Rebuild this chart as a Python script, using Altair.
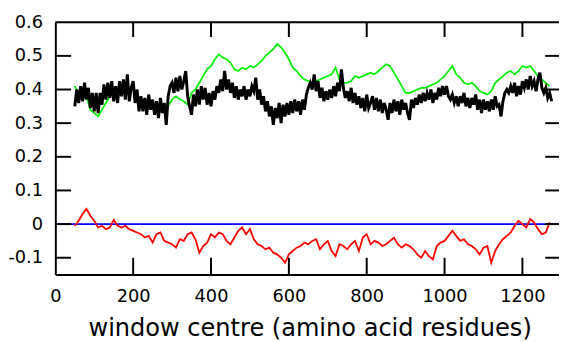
import altair as alt
import pandas as pd

# ---- data ----
green_x = list(range(50, 1271, 10))
green = [0.41, 0.39, 0.37, 0.38, 0.34, 0.33, 0.32, 0.34, 0.36, 0.38,
         0.39, 0.385, 0.395, 0.40, 0.395, 0.40, 0.38, 0.37, 0.36, 0.37,
         0.36, 0.35, 0.34, 0.33, 0.35, 0.37, 0.38, 0.37, 0.365, 0.355,
         0.39, 0.40, 0.42, 0.44, 0.46, 0.47, 0.49, 0.505, 0.495, 0.49,
         0.48, 0.46, 0.455, 0.465, 0.46, 0.47, 0.465, 0.475, 0.485, 0.50,
         0.51, 0.52, 0.535, 0.525, 0.51, 0.49, 0.465, 0.455, 0.44, 0.43,
         0.425, 0.42, 0.425, 0.43, 0.435, 0.44, 0.445, 0.465, 0.43, 0.42,
         0.42, 0.425, 0.44, 0.435, 0.44, 0.445, 0.45, 0.445, 0.455, 0.465,
         0.475, 0.47, 0.45, 0.43, 0.41, 0.39, 0.39, 0.395, 0.40, 0.405,
         0.405, 0.41, 0.415, 0.42, 0.43, 0.44, 0.455, 0.47, 0.445, 0.435,
         0.42, 0.415, 0.42, 0.41, 0.395, 0.39, 0.385, 0.395, 0.42, 0.43,
         0.44, 0.45, 0.455, 0.445, 0.455, 0.47, 0.465, 0.47, 0.455, 0.44,
         0.43, 0.42, 0.41]

black_x = list(range(50, 1276, 5))
black = [0.35, 0.40, 0.36, 0.41, 0.365, 0.42, 0.37, 0.405, 0.345, 0.39,
         0.335, 0.39, 0.33, 0.39, 0.355, 0.415, 0.37, 0.42, 0.375, 0.425,
         0.365, 0.41, 0.36, 0.425, 0.38, 0.43, 0.37, 0.445, 0.365, 0.405,
         0.425, 0.36, 0.40, 0.335, 0.38, 0.335, 0.375, 0.325, 0.385, 0.34,
         0.37, 0.325, 0.365, 0.315, 0.375, 0.33, 0.36, 0.295, 0.38, 0.41,
         0.42, 0.39, 0.435, 0.395, 0.44, 0.40, 0.425, 0.455, 0.38, 0.35,
         0.325, 0.385, 0.35, 0.40, 0.355, 0.41, 0.37, 0.405, 0.355, 0.39,
         0.35, 0.395, 0.37, 0.41, 0.39, 0.43, 0.395, 0.455, 0.40, 0.43,
         0.39, 0.42, 0.375, 0.41, 0.37, 0.40, 0.38, 0.41, 0.37, 0.40,
         0.38, 0.41, 0.395, 0.435, 0.37, 0.40, 0.355, 0.38, 0.335, 0.365,
         0.32, 0.35, 0.295, 0.345, 0.315, 0.36, 0.30, 0.355, 0.32, 0.36,
         0.325, 0.365, 0.33, 0.37, 0.335, 0.365, 0.325, 0.37, 0.34, 0.385,
         0.405, 0.42, 0.40, 0.445, 0.395, 0.425, 0.375, 0.405, 0.365, 0.395,
         0.37, 0.40, 0.375, 0.41, 0.38, 0.42, 0.395, 0.46, 0.405, 0.375,
         0.395, 0.365, 0.405, 0.36, 0.39, 0.355, 0.38, 0.345, 0.375, 0.335,
         0.385, 0.345, 0.36, 0.38, 0.34, 0.375, 0.335, 0.37, 0.33, 0.36,
         0.34, 0.31, 0.36, 0.33, 0.37, 0.335, 0.365, 0.325, 0.37, 0.34,
         0.36, 0.33, 0.31, 0.37, 0.345, 0.375, 0.355, 0.385, 0.36, 0.39,
         0.365, 0.39, 0.37, 0.40, 0.36, 0.39, 0.37, 0.405, 0.38, 0.41,
         0.385, 0.41, 0.38, 0.37, 0.385, 0.36, 0.38, 0.35, 0.38, 0.36,
         0.39, 0.35, 0.375, 0.345, 0.375, 0.355, 0.385, 0.34, 0.37, 0.33,
         0.37, 0.34, 0.365, 0.335, 0.37, 0.34, 0.38, 0.35, 0.355, 0.32,
         0.365, 0.39, 0.40, 0.39, 0.41, 0.39, 0.42, 0.38, 0.41, 0.385,
         0.425, 0.405, 0.43, 0.40, 0.44, 0.41, 0.425, 0.395, 0.43, 0.45,
         0.405, 0.39, 0.405, 0.375, 0.39, 0.365]

red_x = list(range(50, 1271, 10))
red = [-0.005, 0.01, 0.03, 0.045, 0.025, 0.01, -0.01, -0.005, -0.015, -0.01,
       0.012, -0.005, -0.01, -0.005, -0.015, -0.02, -0.025, -0.03, -0.04, -0.035,
       -0.055, -0.03, -0.025, -0.05, -0.055, -0.06, -0.07, -0.045, -0.05, -0.03,
       -0.025, -0.045, -0.085, -0.065, -0.055, -0.03, -0.04, -0.025, -0.03, -0.05,
       -0.06, -0.04, -0.02, -0.01, -0.03, -0.015, -0.045, -0.06, -0.065, -0.075,
       -0.07, -0.085, -0.09, -0.1, -0.115, -0.09, -0.08, -0.07, -0.065, -0.055,
       -0.06, -0.05, -0.045, -0.075, -0.06, -0.05, -0.08, -0.095, -0.06, -0.065,
       -0.075, -0.06, -0.05, -0.08, -0.04, -0.03, -0.06, -0.05, -0.055, -0.065,
       -0.06, -0.05, -0.04, -0.06, -0.07, -0.06, -0.065, -0.075, -0.09, -0.1,
       -0.08, -0.095, -0.105, -0.065, -0.055, -0.05, -0.035, -0.02, -0.035, -0.05,
       -0.045, -0.06, -0.065, -0.075, -0.09, -0.07, -0.065, -0.115, -0.08, -0.06,
       -0.045, -0.035, -0.025, -0.005, 0.01, 0.0, -0.01, 0.015, 0.005, -0.015,
       -0.03, -0.025, 0.005]

x_ticks = [0, 200, 400, 600, 800, 1000, 1200]
y_ticks = [-0.1, 0.0, 0.1, 0.2, 0.3, 0.4, 0.5, 0.6]
x_title = "window centre (amino acid residues)"

W, H = 511, 256
FONT = "DejaVu Sans"

df_green = pd.DataFrame({"x": green_x, "y": green})
df_black = pd.DataFrame({"x": black_x, "y": black})
df_red = pd.DataFrame({"x": red_x, "y": red})
df_xt = pd.DataFrame({"x": x_ticks[1:]})
df_yt = pd.DataFrame({"y": y_ticks[:-1]})
df_zero = pd.DataFrame({"y": [0.0]})
df_top = pd.DataFrame({"y": [0.6]})

xs = alt.Scale(domain=[0, 1294], nice=False, zero=False)
ys = alt.Scale(domain=[-0.15, 0.6], nice=False, zero=False)

x_axis = alt.Axis(
    values=x_ticks, title=x_title, ticks=False, labelPadding=13, format="d",
    labelFontSize=18, labelFont=FONT, labelColor="black", labelOverlap=False,
    titleFontSize=24.4, titleFont=FONT, titleColor="black", titleFontWeight="normal",
    titleBaseline="alphabetic", titleY=62, titleX=258,
    domainColor="black", domainWidth=2, grid=False, labelFlush=False)
y_axis = alt.Axis(
    values=y_ticks, title=None, ticks=False, labelPadding=13,
    labelFontSize=18, labelFont=FONT, labelColor="black", labelOverlap=False,
    labelExpr="datum.value < 0 ? '-' + format(-datum.value, '.1~f') : format(datum.value, '.1~f')",
    domainColor="black", domainWidth=2, grid=False, labelFlush=False)
x_enc = alt.X("x:Q", scale=xs, axis=x_axis)
y_enc = alt.Y("y:Q", scale=ys, axis=y_axis)

l_green = alt.Chart(df_green).mark_line(color="#00f000", strokeWidth=1.7).encode(x=x_enc, y=y_enc)
l_black = alt.Chart(df_black).mark_line(color="black", strokeWidth=3).encode(x=x_enc, y=y_enc)
l_red = alt.Chart(df_red).mark_line(color="#ff0000", strokeWidth=1.8).encode(x=x_enc, y=y_enc)
blue = alt.Chart(df_zero).mark_rule(color="#0000ff", strokeWidth=1.6).encode(y=y_enc)
top = alt.Chart(df_top).mark_rule(color="black", strokeWidth=2).encode(y=y_enc)

t_bottom = alt.Chart(df_xt).mark_rule(color="black", strokeWidth=2).encode(
    x=x_enc, y=alt.value(H), y2=alt.value(H - 17))
t_top = alt.Chart(df_xt).mark_rule(color="black", strokeWidth=2).encode(
    x=x_enc, y=alt.value(0), y2=alt.value(15))
t_left = alt.Chart(df_yt).mark_rule(color="black", strokeWidth=2).encode(
    y=y_enc, x=alt.value(0), x2=alt.value(16))
t_right = alt.Chart(df_yt).mark_rule(color="black", strokeWidth=2).encode(
    y=y_enc, x=alt.value(W - 14), x2=alt.value(W))

chart = alt.layer(
    blue, l_green, l_black, l_red, top, t_bottom, t_top, t_left, t_right
).properties(
    width=W, height=H,
    autosize=alt.AutoSizeParams(type="none"),
    padding={"left": 48, "top": 12, "right": 0, "bottom": 66},
).configure_view(stroke=None).configure_axis(
    labelOverlap=False, labelSeparation=0, labelBound=False
).configure(background="white")

chart.save("out.html", embed_options={"renderer": "svg", "actions": False})
